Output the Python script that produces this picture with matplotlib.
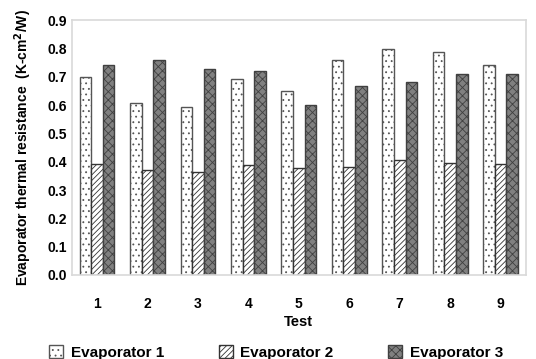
import numpy as np
import matplotlib
matplotlib.use("Agg")
import matplotlib.pyplot as plt

plt.rcParams['font.family'] = ['Liberation Sans', 'DejaVu Sans']
plt.rcParams['font.weight'] = 'bold'
plt.rcParams['hatch.linewidth'] = 0.6

tests = ['1', '2', '3', '4', '5', '6', '7', '8', '9']
evap1 = [0.698, 0.606, 0.594, 0.693, 0.650, 0.758, 0.799, 0.788, 0.741]
evap2 = [0.392, 0.372, 0.364, 0.387, 0.378, 0.382, 0.407, 0.394, 0.393]
evap3 = [0.740, 0.758, 0.728, 0.719, 0.601, 0.666, 0.682, 0.711, 0.708]

fig = plt.figure(figsize=(5.36, 3.59), dpi=100)
ax = fig.add_axes([0.134, 0.234, 0.847, 0.710])

x = np.arange(len(tests))
w = 0.23
ax.bar(x - w, evap1, w, color='white', edgecolor='#555555', hatch='...', linewidth=1.0, label='Evaporator 1')
ax.bar(x, evap2, w, color='white', edgecolor='#333333', hatch='//////', linewidth=1.0, label='Evaporator 2')
ax.bar(x + w, evap3, w, color='#808080', edgecolor='#404040', hatch='xxxx', linewidth=1.0, label='Evaporator 3')

ax.set_xlim(-0.5, len(tests) - 0.5)
ax.set_ylim(0, 0.9)
ax.set_yticks(np.arange(0, 0.91, 0.1))
ax.set_yticklabels([f'{v:.1f}' for v in np.arange(0, 0.91, 0.1)])
ax.set_xticks(x)
ax.set_xticklabels(tests)
ax.tick_params(axis='both', length=0, labelsize=10)
ax.tick_params(axis='x', pad=16)
for s in ax.spines.values():
    s.set_color('#d9d9d9')
    s.set_linewidth(1.2)

ax.set_xlabel('Test', fontsize=10.5, fontweight='bold', labelpad=3)
ax.set_ylabel('Evaporator thermal resistance  (K-cm$^\\mathbf{2}$/W)', fontsize=10, fontweight='bold', labelpad=10)

ax.legend(loc='center', bbox_to_anchor=(0.45, -0.305), ncol=3, frameon=False,
          fontsize=11, columnspacing=3.6, handlelength=0.9, handleheight=0.9, handletextpad=0.5,
          borderpad=0.1)

fig.savefig('out.png', dpi=100)
